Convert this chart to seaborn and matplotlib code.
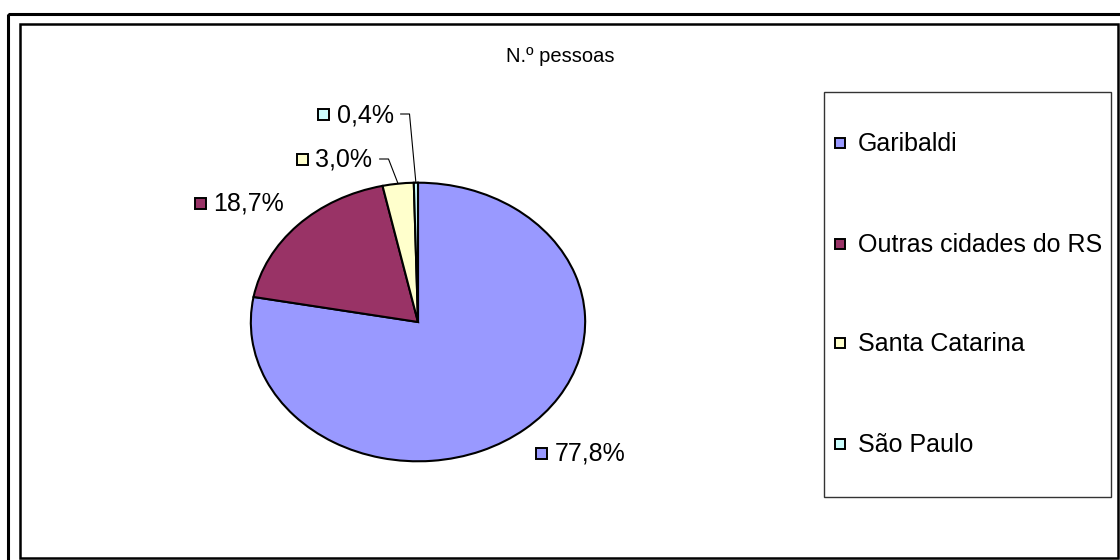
import matplotlib
matplotlib.use("Agg")
import matplotlib.pyplot as plt
from matplotlib.patches import Rectangle
import numpy as np
import seaborn as sns

# ---- data ----
title = "N.º pessoas"
categories = ["Garibaldi", "Outras cidades do RS", "Santa Catarina", "São Paulo"]
values = [77.8, 18.7, 3.0, 0.4]
value_labels = ["77,8%", "18,7%", "3,0%", "0,4%"]
colors = ["#9999FF", "#993366", "#FFFFCC", "#CCFFFF"]

# ---- style / layout (pixel positions of label markers, leader flags) ----
label_pos = [(541, 453), (200, 203), (302, 159), (323, 114)]
has_leader = [False, False, True, True]

sns.set_theme(style="white")
plt.rcParams['font.family'] = ['Liberation Sans', 'DejaVu Sans']

W, H = 1120, 560
fig = plt.figure(figsize=(W / 100, H / 100), dpi=100)
fig.patch.set_facecolor("white")

# pie axes (elliptical pie like the Excel original)
pl, pr, pt, pb = 250, 586, 182, 462
axp = fig.add_axes([pl / W, (H - pb) / H, (pr - pl) / W, (pb - pt) / H])
palette = sns.color_palette(colors)
wedges, _ = axp.pie(values, colors=palette, startangle=90, counterclock=False,
                    radius=1.0, wedgeprops=dict(edgecolor="black", linewidth=1.5))
axp.set_aspect("auto")
axp.set_xlim(-1.005, 1.005)
axp.set_ylim(-1.005, 1.005)
axp.axis("off")

# overlay axes in pixel coordinates
ov = fig.add_axes([0, 0, 1, 1], zorder=5)
ov.set_xlim(0, W)
ov.set_ylim(H, 0)
ov.axis("off")
ov.patch.set_alpha(0)

# frames
ov.add_patch(Rectangle((8, 14), W + 20, H + 20, fill=False, edgecolor="black", linewidth=2.2))
ov.add_patch(Rectangle((20, 24), 1098, 534, fill=False, edgecolor="black", linewidth=1.8))

# title
ov.text(560, 57, title, ha="center", va="center", fontsize=14.5, color="black")

fs = 18
# data labels with markers and leader lines
total = sum(values)
fig.canvas.draw()
ms = 11
cum = 0.0
for i, (v, lab, col) in enumerate(zip(values, value_labels, colors)):
    mid = 90 - 360 * (cum + v / 2) / total
    cum += v
    x, y = label_pos[i]
    ov.add_patch(Rectangle((x - ms / 2, y - ms / 2), ms, ms, facecolor=col,
                           edgecolor="black", linewidth=1.4))
    t = ov.text(x + ms / 2 + 8, y + 1, lab, ha="left", va="center", fontsize=fs, color="black")
    if has_leader[i]:
        bb = t.get_window_extent(renderer=fig.canvas.get_renderer())
        x_end = bb.x1 + 7
        ex, ey = axp.transData.transform((np.cos(np.radians(mid)), np.sin(np.radians(mid))))
        ey = H - ey
        ov.plot([x_end, x_end + 9, ex], [y, y, ey], color="black", linewidth=0.8)

# legend box
lx0, ly0, lx1, ly1 = 824, 92, 1111, 497
ov.add_patch(Rectangle((lx0, ly0), lx1 - lx0, ly1 - ly0, fill=False, edgecolor="#333333", linewidth=1.0))
leg_y = [143, 244, 343, 444]
for cat, col, yy in zip(categories, colors, leg_y):
    ov.add_patch(Rectangle((835, yy - 5), 10, 10, facecolor=col, edgecolor="black", linewidth=1.4))
    ov.text(858, yy + 1, cat, ha="left", va="center", fontsize=fs, color="black")

fig.savefig("out.png", dpi=100)
